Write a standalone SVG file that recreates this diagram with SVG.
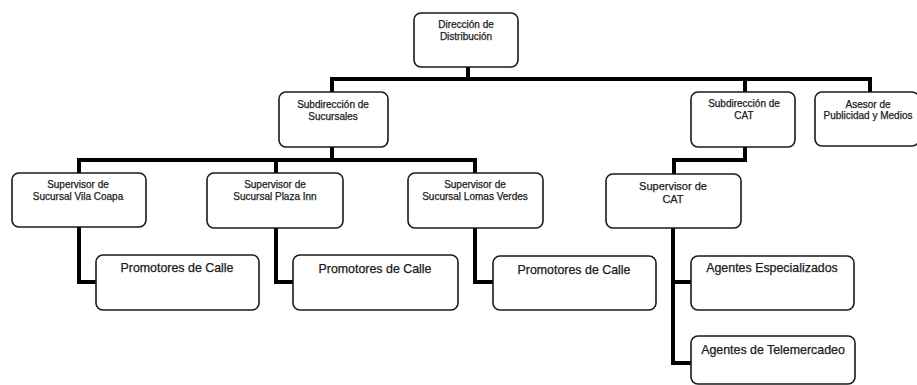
<svg xmlns="http://www.w3.org/2000/svg" width="917" height="385" viewBox="0 0 917 385">
  <style>
    .box { fill: #ffffff; stroke: #1a1a1a; stroke-width: 1.6; }
    .link { fill: none; stroke: #000000; stroke-width: 4; stroke-linejoin: miter; stroke-linecap: square; }
    text { font-family: "Liberation Sans", Arial, sans-serif; fill: #1a1a1a; stroke: #1a1a1a; stroke-width: 0.25; text-anchor: middle; }
    .s { font-size: 10px; }
    .m { font-size: 11px; }
    .l { font-size: 12.4px; }
  </style>
  <rect width="917" height="385" fill="#ffffff"/>

  <!-- Connectors -->
  <g id="connectors" class="link">
    <path d="M468 67 V79"/>
    <path d="M332 92 V79 H870 V92"/>
    <path d="M745 79 V92"/>
    <path d="M332 147 V160"/>
    <path d="M79 173 V160 H475 V173"/>
    <path d="M276 160 V173"/>
    <path d="M745 147 V160 H674 V173"/>
    <path d="M79 227 V282 H96"/>
    <path d="M276 228 V282 H293"/>
    <path d="M475 228 V282 H493"/>
    <path d="M673 228 V363 H691"/>
    <path d="M673 282 H691"/>
  </g>

  <!-- Nodes -->
  <g id="direccion">
    <rect class="box" x="414" y="13" width="104" height="54" rx="7"/>
    <text class="s" x="466" y="28">Dirección de</text>
    <text class="s" x="466" y="40">Distribución</text>
  </g>
  <g id="sub-sucursales">
    <rect class="box" x="279" y="92" width="109" height="55" rx="7"/>
    <text class="s" x="333" y="108">Subdirección de</text>
    <text class="s" x="333" y="120">Sucursales</text>
  </g>
  <g id="sub-cat">
    <rect class="box" x="691" y="92" width="104" height="55" rx="7"/>
    <text class="s" x="744" y="107">Subdirección de</text>
    <text class="s" x="744" y="119">CAT</text>
  </g>
  <g id="asesor">
    <rect class="box" x="815" y="92" width="104" height="54" rx="7"/>
    <text class="s" x="868" y="108">Asesor de</text>
    <text class="s" x="868" y="119">Publicidad y Medios</text>
  </g>
  <g id="sup-villa-coapa">
    <rect class="box" x="12" y="173" width="134" height="54" rx="7"/>
    <text class="s" x="78" y="188">Supervisor de</text>
    <text class="s" x="78" y="200">Sucursal Vila Coapa</text>
  </g>
  <g id="sup-plaza-inn">
    <rect class="box" x="207" y="173" width="136" height="55" rx="7"/>
    <text class="s" x="275" y="188">Supervisor de</text>
    <text class="s" x="275" y="200">Sucursal Plaza Inn</text>
  </g>
  <g id="sup-lomas-verdes">
    <rect class="box" x="408" y="173" width="135" height="55" rx="7"/>
    <text class="s" x="475" y="188">Supervisor de</text>
    <text class="s" x="475" y="200">Sucursal Lomas Verdes</text>
  </g>
  <g id="sup-cat">
    <rect class="box" x="606" y="174" width="135" height="54" rx="7"/>
    <text class="m" x="673" y="190">Supervisor de</text>
    <text class="m" x="673" y="203">CAT</text>
  </g>
  <g id="promotores-1">
    <rect class="box" x="96" y="255" width="163" height="55" rx="7"/>
    <text class="l" x="177" y="272">Promotores de Calle</text>
  </g>
  <g id="promotores-2">
    <rect class="box" x="293" y="255" width="165" height="55" rx="7"/>
    <text class="l" x="375" y="273">Promotores de Calle</text>
  </g>
  <g id="promotores-3">
    <rect class="box" x="493" y="256" width="163" height="54" rx="7"/>
    <text class="l" x="574" y="274">Promotores de Calle</text>
  </g>
  <g id="agentes-especializados">
    <rect class="box" x="691" y="256" width="163" height="54" rx="7"/>
    <text class="l" x="772" y="272">Agentes Especializados</text>
  </g>
  <g id="agentes-telemercadeo">
    <rect class="box" x="691" y="336" width="164" height="48" rx="7"/>
    <text class="l" x="773" y="354">Agentes de Telemercadeo</text>
  </g>
</svg>
